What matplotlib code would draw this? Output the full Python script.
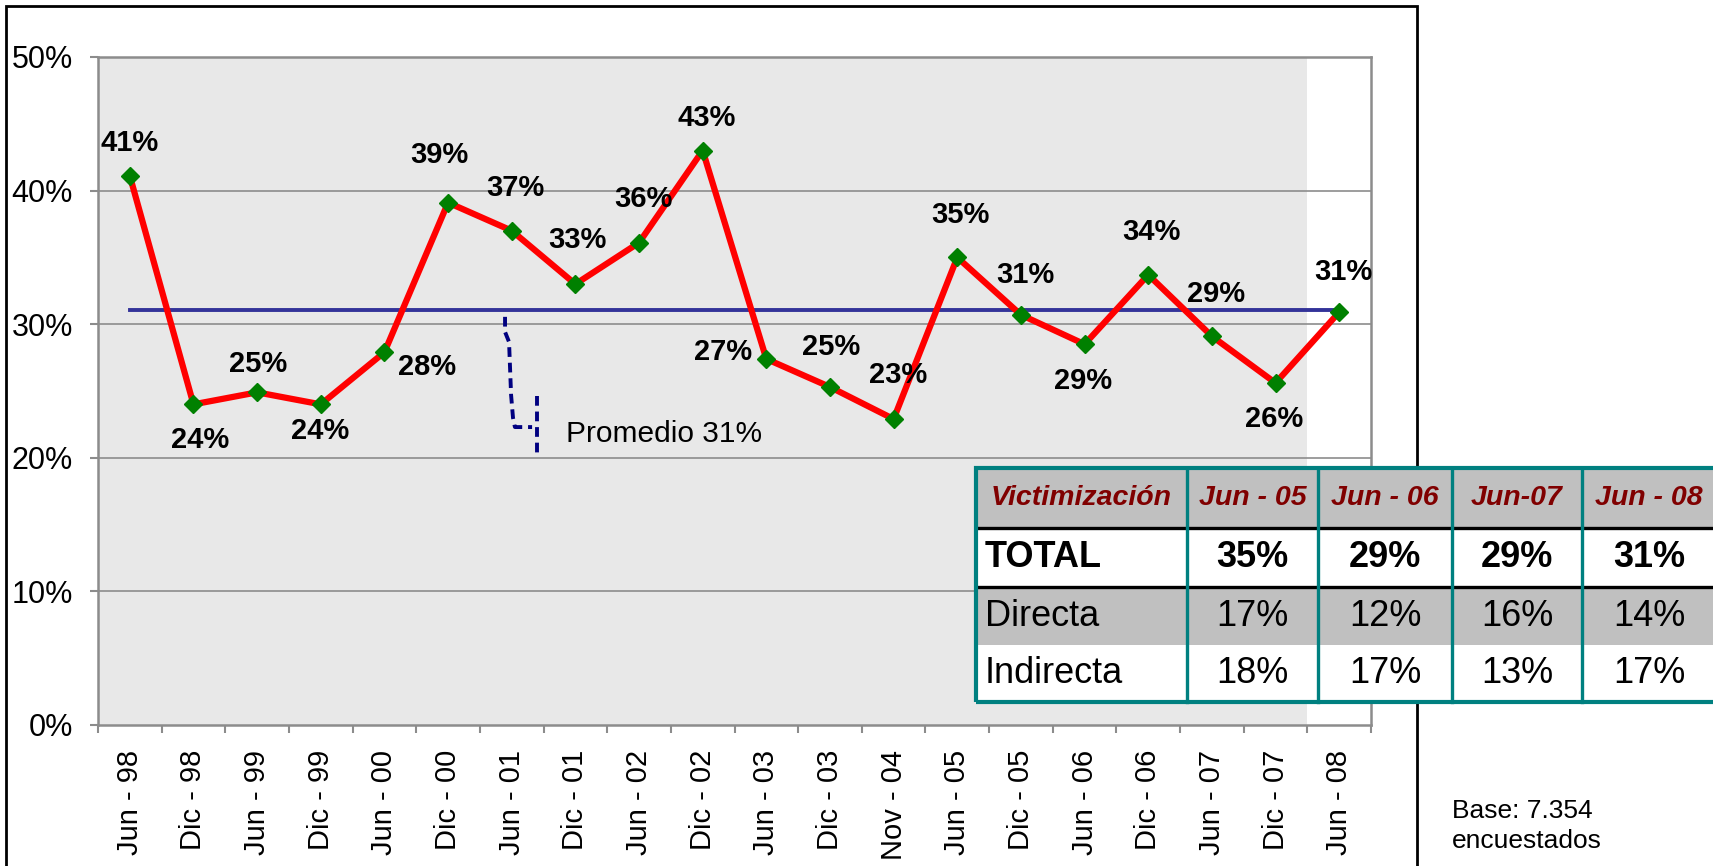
import matplotlib
matplotlib.use('Agg')
import matplotlib.pyplot as plt
from matplotlib.patches import Rectangle
from matplotlib.lines import Line2D
from matplotlib.ticker import FuncFormatter

plt.rcParams['font.family'] = ['Liberation Sans', 'DejaVu Sans']

# Datos del gráfico
periodos = ['Jun - 98', 'Dic - 98', 'Jun - 99', 'Dic - 99', 'Jun - 00', 'Dic - 00',
            'Jun - 01', 'Dic - 01', 'Jun - 02', 'Dic - 02', 'Jun - 03', 'Dic - 03',
            'Nov - 04', 'Jun - 05', 'Dic - 05', 'Jun - 06', 'Dic - 06', 'Jun - 07',
            'Dic - 07', 'Jun - 08']
victimizacion = [41.1, 24.0, 24.9, 24.0, 27.9, 39.1, 37.0, 33.0, 36.1, 43.0,
                 27.4, 25.3, 22.9, 35.0, 30.7, 28.5, 33.7, 29.1, 25.6, 30.9]
etiquetas = ['41%', '24%', '25%', '24%', '28%', '39%', '37%', '33%', '36%', '43%',
             '27%', '25%', '23%', '35%', '31%', '29%', '34%', '29%', '26%', '31%']
promedio = 31.1

# Tabla
tabla_cols = ['Victimización', 'Jun - 05', 'Jun - 06', 'Jun-07', 'Jun - 08']
tabla_filas = ['TOTAL', 'Directa', 'Indirecta']
total = ['35%', '29%', '29%', '31%']
directa = ['17%', '12%', '16%', '14%']
indirecta = ['18%', '17%', '13%', '17%']

W, H = 1713, 866


def fx(x):
    return x / W


def fy(y):
    return 1 - y / H


fig = plt.figure(figsize=(W / 100, H / 100), dpi=100)
ax = fig.add_axes([fx(98), fy(725), fx(1371) - fx(98), fy(57) - fy(725)])

n = len(periodos)
xs = list(range(n))

ax.set_xlim(-0.5, n - 0.5)
ax.set_ylim(0, 50)
ax.axvspan(-0.5, n - 1.5, color='#E8E8E8', zorder=0, lw=0)

for yv in [10, 20, 30, 40]:
    ax.axhline(yv, color='#8C8C8C', lw=1.2, zorder=1)

ax.plot([0, n - 1], [promedio, promedio], color='#333399', lw=2.8, zorder=2)
ax.plot(xs, victimizacion, color='#FF0000', lw=4.5, marker='D', ms=9,
        mfc='#008000', mec='#008000', zorder=3)

# posiciones de las etiquetas (pixeles)
offsets = [(0, 33), (7, -36), (1, 28), (-1, -27), (43, -15), (-9, 48), (4, 43),
           (2, 44), (4, 44), (4, 33), (-43, 7), (1, 40), (4, 44), (3, 42),
           (4, 40), (-2, -37), (3, 43), (4, 42), (-1, -36), (4, 40)]
for x, y, t, off in zip(xs, victimizacion, etiquetas, offsets):
    ax.annotate(t, (x, y), xytext=off, textcoords='offset pixels', ha='center',
                va='center', fontsize=21, fontweight='bold', zorder=4)

# linea punteada del promedio
ax.plot([5.895, 5.895, 5.958, 5.973, 5.99, 6.02, 6.05, 6.32],
        [30.55, 29.42, 28.67, 26.8, 24.7, 23.0, 22.3, 22.3],
        color='#000080', lw=2.8, ls=(0, (2.5, 1.5)), zorder=2)
ax.plot([6.40, 6.40], [24.6, 20.0], color='#000080', lw=2.8, ls=(0, (2.5, 1.5)), zorder=2)
ax.text(6.85, 21.8, 'Promedio 31%', fontsize=21.5, va='center', ha='left')

for s in ax.spines.values():
    s.set_color('#8C8C8C')
    s.set_linewidth(1.8)

ax.set_yticks([0, 10, 20, 30, 40, 50])
ax.yaxis.set_major_formatter(FuncFormatter(lambda v, p: f'{v:.0f}%'))
ax.tick_params(axis='y', length=6, width=1.5, color='#8C8C8C', labelsize=22, pad=12)

ax.set_xticks([i - 0.5 for i in range(n + 1)])
ax.set_xticklabels([])
ax.set_xticks(xs, minor=True)
ax.set_xticklabels(periodos, minor=True, rotation=90, fontsize=21)
ax.tick_params(axis='x', which='major', length=6, width=1.5, color='#8C8C8C')
ax.tick_params(axis='x', which='minor', length=0, pad=18)

# marco exterior
fig.add_artist(Rectangle((fx(6), fy(900)), fx(1417) - fx(6), fy(6) - fy(900),
                         transform=fig.transFigure, fill=False, ec='black', lw=2,
                         zorder=1))

fig.text(fx(1452), fy(811), 'Base: 7.354', fontsize=19, va='center', ha='left')
fig.text(fx(1452), fy(841), 'encuestados', fontsize=19, va='center', ha='left')

# tabla
col_x = [976, 1187, 1318, 1452, 1582, 1716]
row_y = [468, 528, 587, 645, 702]
fondos = ['#C0C0C0', 'white', '#C0C0C0', 'white']
for i, c in enumerate(fondos):
    fig.add_artist(Rectangle((fx(col_x[0]), fy(row_y[i + 1])), fx(col_x[-1]) - fx(col_x[0]),
                             fy(row_y[i]) - fy(row_y[i + 1]), transform=fig.transFigure,
                             fc=c, ec='none', zorder=5))

for yl in row_y[1:3]:
    fig.add_artist(Line2D([fx(col_x[0]), fx(col_x[-1])], [fy(yl), fy(yl)],
                          transform=fig.transFigure, color='black', lw=2.4, zorder=6))
for xl in col_x[1:-1]:
    fig.add_artist(Line2D([fx(xl), fx(xl)], [fy(row_y[0]), fy(row_y[-1])],
                          transform=fig.transFigure, color='#008080', lw=2.4, zorder=6))
fig.add_artist(Rectangle((fx(col_x[0]), fy(row_y[-1])), fx(col_x[-1]) - fx(col_x[0]),
                         fy(row_y[0]) - fy(row_y[-1]), transform=fig.transFigure,
                         fill=False, ec='#008080', lw=3, zorder=7))

def centro(lista, i):
    return (lista[i] + lista[i + 1]) / 2

for j, t in enumerate(tabla_cols):
    fig.text(fx(centro(col_x, j)), fy(centro(row_y, 0)), t, fontsize=20.5,
             fontweight='bold', style='italic', color='#800000', ha='center',
             va='center', zorder=8)

filas = [total, directa, indirecta]
for i, (nombre, vals) in enumerate(zip(tabla_filas, filas)):
    peso = 'bold' if i == 0 else 'normal'
    yc = fy(centro(row_y, i + 1))
    fig.text(fx(985), yc, nombre, fontsize=26, fontweight=peso, ha='left',
             va='center', zorder=8)
    for j, v in enumerate(vals):
        fig.text(fx(centro(col_x, j + 1)), yc, v, fontsize=26, fontweight=peso,
                 ha='center', va='center', zorder=8)

fig.savefig('out.png', dpi=100)
